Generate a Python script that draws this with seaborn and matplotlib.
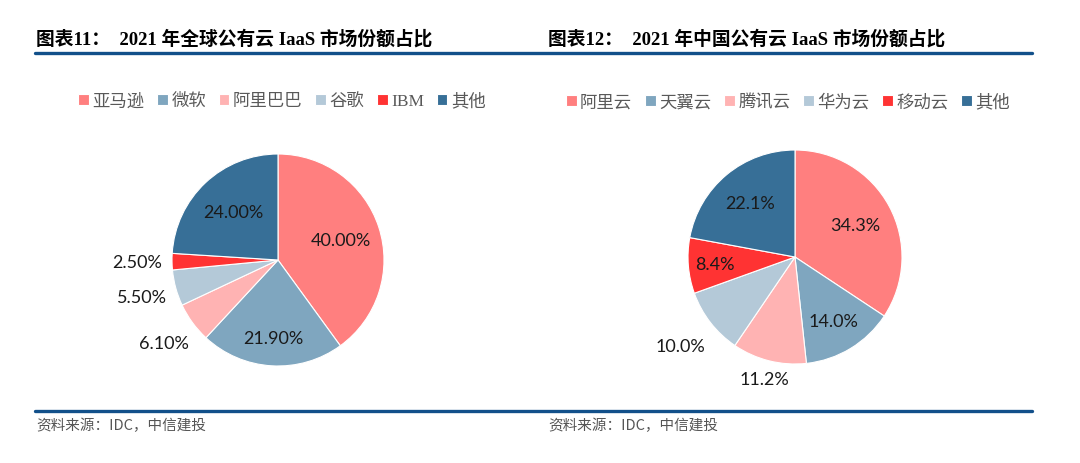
import numpy as np
import matplotlib
matplotlib.use("Agg")
import matplotlib.pyplot as plt
import seaborn as sns

sns.set_theme(style="white")
plt.rcParams['font.family'] = ['Lato', 'Noto Sans CJK SC', 'DejaVu Sans']

# ------------------------------------------------------------
# data
# ------------------------------------------------------------
global_names = ['亚马逊', '微软', '阿里巴巴', '谷歌', 'IBM', '其他']
global_share = [40.0, 21.9, 6.1, 5.5, 2.5, 24.0]
global_labels = ['40.00%', '21.90%', '6.10%', '5.50%', '2.50%', '24.00%']

china_names = ['阿里云', '天翼云', '腾讯云', '华为云', '移动云', '其他']
china_share = [34.3, 14.0, 11.2, 10.0, 8.4, 22.1]
china_labels = ['34.3%', '14.0%', '11.2%', '10.0%', '8.4%', '22.1%']

palette = sns.color_palette(['#FF7F7F', '#7FA6BF', '#FFB3B3', '#B4C9D8', '#FF3333', '#376F97'])

# label distance (fraction of radius) for each wedge
global_dist = [0.62, 0.74, 1.33, 1.33, 1.33, 0.62]
china_dist = [0.64, 0.70, 1.18, 1.35, 0.75, 0.66]

W, H = 1080, 464
NAVY = '#12508A'
fig = plt.figure(figsize=(W / 100, H / 100), dpi=100)


def pie_axes(cx, cy, half=150):
    ax = fig.add_axes([(cx - half) / W, (H - cy - half) / H, 2 * half / W, 2 * half / H])
    return ax


def draw_pie(ax, shares, labels, dists, r, half=150):
    wedges, _ = ax.pie(shares, colors=palette, startangle=90, counterclock=False,
                       wedgeprops=dict(linewidth=0.8, edgecolor='white'))
    for w, lab, d in zip(wedges, labels, dists):
        ang = np.deg2rad((w.theta1 + w.theta2) / 2)
        ax.text(d * np.cos(ang), d * np.sin(ang), lab, ha='center', va='center',
                fontsize=13, color='#1a1a1a', family=['Lato'])
    lim = half / r
    ax.set_xlim(-lim, lim)
    ax.set_ylim(-lim, lim)
    ax.set_axis_off()
    return wedges


def legend_row(wedges, names, x, y):
    fig.legend(wedges, names, loc='center', bbox_to_anchor=(x / W, 1 - y / H),
               ncol=6, frameon=False, handlelength=0.6, handleheight=0.6,
               handletextpad=0.2, columnspacing=0.75, borderaxespad=0,
               prop=dict(family=['Liberation Serif', 'Noto Sans CJK SC'], size=12.5),
               labelcolor='#595959')


# left: global
ax1 = pie_axes(278, 261)
w1 = draw_pie(ax1, global_share, global_labels, global_dist, 106)
legend_row(w1, global_names, 282, 102)

# right: china
ax2 = pie_axes(795, 258)
w2 = draw_pie(ax2, china_share, china_labels, china_dist, 107)
legend_row(w2, china_names, 788, 103)

# titles
title_font = ['Liberation Serif', 'Noto Sans CJK SC']
fig.text(36 / W, 1 - 39 / H, '图表11：  2021 年全球公有云 IaaS 市场份额占比',
         ha='left', va='center', fontsize=13.5, fontweight='bold', family=title_font, color='black')
fig.text(548 / W, 1 - 39 / H, '图表12：  2021 年中国公有云 IaaS 市场份额占比',
         ha='left', va='center', fontsize=13.5, fontweight='bold', family=title_font, color='black')

# rules
fig.add_artist(plt.Line2D([35 / W, 1032 / W], [1 - 54 / H] * 2, color=NAVY, lw=2.4))
fig.add_artist(plt.Line2D([35 / W, 1032 / W], [1 - 412 / H] * 2, color=NAVY, lw=2.4))

# source notes
for x0 in (36, 548):
    fig.text(x0 / W, 1 - 426 / H, '资料来源：IDC，中信建投', ha='left', va='center',
             fontsize=10.5, style='italic', color='#555555', family=['Noto Sans CJK SC'])

fig.savefig('out.png', dpi=100, facecolor='white')
